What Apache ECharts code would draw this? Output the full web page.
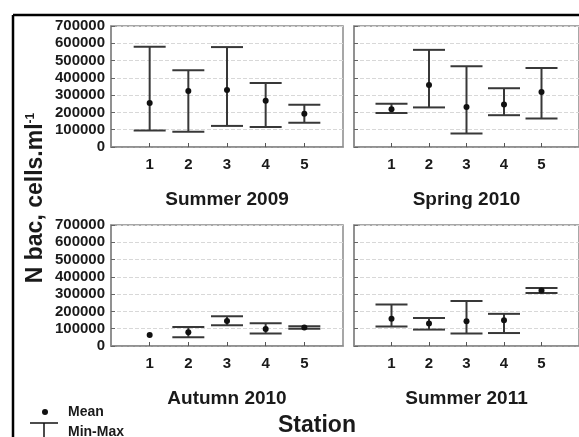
<!DOCTYPE html>
<html><head><meta charset="utf-8">
<script src="https://cdn.jsdelivr.net/npm/echarts@6/dist/echarts.min.js"></script>
<style>html,body{margin:0;padding:0;background:#fff}#c{width:579px;height:437px}</style>
</head><body><div id="c"></div>
<script>
// Data: station numbers and per-station [min, max, mean] in cells/ml
var stations = [1, 2, 3, 4, 5];
var panelTitles = ['Summer 2009', 'Spring 2010', 'Autumn 2010', 'Summer 2011'];
var yTicks = [0, 100000, 200000, 300000, 400000, 500000, 600000, 700000];

var summer2009Min  = [95000, 88000, 122000, 116000, 140000];
var summer2009Max  = [580000, 444000, 578000, 370000, 244000];
var summer2009Mean = [255000, 324000, 330000, 268000, 192000];

var spring2010Min  = [196000, 229000, 78000, 184000, 165000];
var spring2010Max  = [250000, 562000, 467000, 340000, 457000];
var spring2010Mean = [219000, 359000, 231000, 246000, 318000];

var autumn2010Min  = [64000, 50000, 120000, 72000, 100000];
var autumn2010Max  = [64000, 110000, 172000, 132000, 114000];
var autumn2010Mean = [64000, 79000, 145000, 99000, 107000];

var summer2011Min  = [113000, 95000, 72000, 75000, 306000];
var summer2011Max  = [240000, 162000, 261000, 186000, 336000];
var summer2011Mean = [157000, 130000, 143000, 149000, 321000];

var mins  = [summer2009Min, spring2010Min, autumn2010Min, summer2011Min];
var maxs  = [summer2009Max, spring2010Max, autumn2010Max, summer2011Max];
var means = [summer2009Mean, spring2010Mean, autumn2010Mean, summer2011Mean];

var chart = echarts.init(document.getElementById('c'), null, {renderer: 'canvas'});
var FONT = '"Liberation Sans", Arial, sans-serif';
var grids = [
  {left: 111, top: 26, width: 232, height: 121},
  {left: 354, top: 26, width: 231, height: 121},
  {left: 111, top: 225, width: 232, height: 121},
  {left: 354, top: 225, width: 231, height: 121}
];
var gridOpt = [], xAxes = [], yAxes = [], series = [];
for (var i = 0; i < 4; i++) {
  gridOpt.push(Object.assign({show: true, borderColor: '#8a8a8a', borderWidth: 1.5, backgroundColor: '#fff'}, grids[i]));
  xAxes.push({
    gridIndex: i, type: 'value', min: 0, max: 6, interval: 1,
    name: panelTitles[i], nameLocation: 'middle', nameGap: 43,
    nameTextStyle: {fontFamily: FONT, fontWeight: 'bold', fontSize: 19, color: '#1a1a1a'},
    axisLine: {show: true, lineStyle: {color: '#8a8a8a', width: 1.5}},
    axisTick: {show: true, inside: true, length: 4, customValues: stations, lineStyle: {color: '#555', width: 1}},
    axisLabel: {show: true, customValues: stations, margin: 10, fontFamily: FONT, fontWeight: 'bold', fontSize: 15, color: '#1a1a1a'},
    splitLine: {show: false}
  });
  yAxes.push({
    gridIndex: i, type: 'value', min: yTicks[0], max: yTicks[yTicks.length - 1], interval: yTicks[1] - yTicks[0],
    axisLine: {show: true, lineStyle: {color: '#8a8a8a', width: 1.5}},
    axisTick: {show: true, inside: true, length: 4, lineStyle: {color: '#666'}},
    axisLabel: {show: i % 2 === 0, margin: 6, fontFamily: FONT, fontWeight: 'bold', fontSize: 15, color: '#1a1a1a',
      formatter: function (v) { return String(v); }},
    splitLine: {show: true, lineStyle: {color: '#d8d8d8', type: 'dashed', width: 1}}
  });
  var data = stations.map(function (s, k) { return [s, mins[i][k], maxs[i][k], means[i][k]]; });
  series.push({
    type: 'custom', xAxisIndex: i, yAxisIndex: i, data: data, clip: false,
    encode: {x: 0, y: [1, 2, 3]},
    renderItem: function (params, api) {
      var x = api.value(0);
      var pMin = api.coord([x, api.value(1)]);
      var pMax = api.coord([x, api.value(2)]);
      var pMean = api.coord([x, api.value(3)]);
      var hw = 16;
      var st = {stroke: '#383838', lineWidth: 2};
      var children = [];
      if (api.value(1) !== api.value(2)) {
        children.push({type: 'line', shape: {x1: pMin[0], y1: pMin[1], x2: pMax[0], y2: pMax[1]}, style: st});
        children.push({type: 'line', shape: {x1: pMin[0] - hw, y1: pMin[1], x2: pMin[0] + hw, y2: pMin[1]}, style: st});
        children.push({type: 'line', shape: {x1: pMax[0] - hw, y1: pMax[1], x2: pMax[0] + hw, y2: pMax[1]}, style: st});
      }
      children.push({type: 'circle', shape: {cx: pMean[0], cy: pMean[1], r: 3}, style: {fill: '#111'}});
      return {type: 'group', children: children};
    }
  });
}

chart.setOption({
  animation: false,
  backgroundColor: '#fff',
  grid: gridOpt, xAxis: xAxes, yAxis: yAxes, series: series,
  graphic: [
    {type: 'line', shape: {x1: 13, y1: 15, x2: 579, y2: 15}, style: {stroke: '#000', lineWidth: 2.5}},
    {type: 'line', shape: {x1: 13, y1: 15, x2: 13, y2: 437}, style: {stroke: '#000', lineWidth: 2.5}},
    {type: 'text', x: 36, y: 198, rotation: Math.PI / 2,
      style: {text: '{a|N bac, cells.ml}{b|-1}', align: 'center', verticalAlign: 'middle',
        rich: {a: {fontFamily: FONT, fontWeight: 'bold', fontSize: 23, fill: '#1a1a1a', verticalAlign: 'bottom'},
               b: {fontFamily: FONT, fontWeight: 'bold', fontSize: 12, fill: '#1a1a1a', verticalAlign: 'top'}}}},
    {type: 'text', x: 317, y: 426, style: {text: 'Station', align: 'center', verticalAlign: 'middle', fontFamily: FONT, fontWeight: 'bold', fontSize: 23, fill: '#1a1a1a'}},
    {type: 'circle', shape: {cx: 45, cy: 412, r: 3}, style: {fill: '#111'}},
    {type: 'text', x: 68, y: 412, style: {text: 'Mean', align: 'left', verticalAlign: 'middle', fontFamily: FONT, fontWeight: 'bold', fontSize: 14, fill: '#1a1a1a'}},
    {type: 'line', shape: {x1: 30, y1: 423, x2: 58, y2: 423}, style: {stroke: '#111', lineWidth: 1.5}},
    {type: 'line', shape: {x1: 44, y1: 423, x2: 44, y2: 437}, style: {stroke: '#111', lineWidth: 1.5}},
    {type: 'text', x: 68, y: 432, style: {text: 'Min-Max', align: 'left', verticalAlign: 'middle', fontFamily: FONT, fontWeight: 'bold', fontSize: 14, fill: '#1a1a1a'}}
  ]
});
</script></body></html>
